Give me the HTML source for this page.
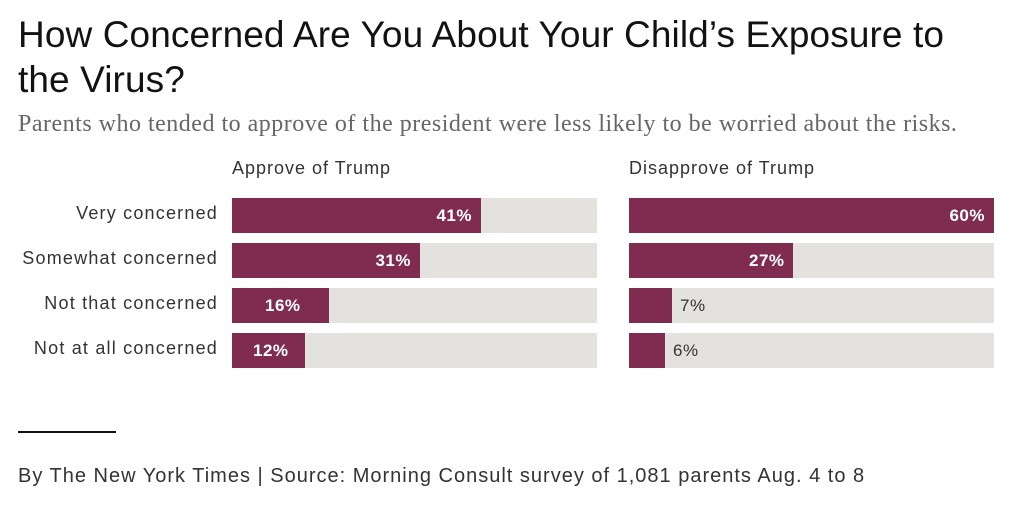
<!DOCTYPE html>
<html><head><meta charset="utf-8"><style>
body{margin:0;width:1023px;height:515px;background:#fff;position:relative;font-family:"Liberation Sans",sans-serif;overflow:hidden}
.a{position:absolute}
.t{left:18px;top:12px;font-size:37px;line-height:45px;color:#121212;width:950px;letter-spacing:0.1px}
.s{left:18px;top:111px;font-family:"Liberation Serif",serif;font-size:24px;color:#666;letter-spacing:0.5px;white-space:nowrap}
.h{top:158px;font-size:18px;color:#333;letter-spacing:1px}
.l{font-size:18px;color:#333;right:805px;text-align:right;white-space:nowrap;letter-spacing:1.2px}
.bg{background:#e4e2de;height:35px;width:365px}
.b{background:#7f2c50;height:35px;position:absolute;left:0;top:0}
.v{position:absolute;top:0;line-height:35px;font-size:17px;font-weight:bold;color:#fff;letter-spacing:0.5px}
.o{color:#333;font-weight:normal}
</style></head><body>
<div class="a t">How Concerned Are You About Your Child’s Exposure to the Virus?</div>
<div class="a s">Parents who tended to approve of the president were less likely to be worried about the risks.</div>
<div class="a h" style="left:232px">Approve of Trump</div>
<div class="a h" style="left:629px">Disapprove of Trump</div>

<div class="a l" style="top:203px">Very concerned</div>
<div class="a l" style="top:248px">Somewhat concerned</div>
<div class="a l" style="top:293px">Not that concerned</div>
<div class="a l" style="top:338px">Not at all concerned</div>

<div class="a bg" style="left:232px;top:198px"><div class="b" style="width:249px"></div><div class="v" style="right:125px">41%</div></div>
<div class="a bg" style="left:232px;top:243px"><div class="b" style="width:188px"></div><div class="v" style="right:186px">31%</div></div>
<div class="a bg" style="left:232px;top:288px"><div class="b" style="width:97px"></div><div class="v" style="left:33px">16%</div></div>
<div class="a bg" style="left:232px;top:333px"><div class="b" style="width:73px"></div><div class="v" style="left:21px">12%</div></div>

<div class="a bg" style="left:629px;top:198px"><div class="b" style="width:365px"></div><div class="v" style="right:9px">60%</div></div>
<div class="a bg" style="left:629px;top:243px"><div class="b" style="width:164px"></div><div class="v" style="left:120px">27%</div></div>
<div class="a bg" style="left:629px;top:288px"><div class="b" style="width:43px"></div><div class="v o" style="left:51px">7%</div></div>
<div class="a bg" style="left:629px;top:333px"><div class="b" style="width:36px"></div><div class="v o" style="left:44px">6%</div></div>

<div class="a" style="left:18px;top:431px;width:98px;height:2px;background:#121212"></div>
<div class="a" style="left:18px;top:465px;font-size:20px;color:#333;letter-spacing:1px;white-space:nowrap">By The New York Times | Source: Morning Consult survey of 1,081 parents Aug. 4 to 8</div>
</body></html>
